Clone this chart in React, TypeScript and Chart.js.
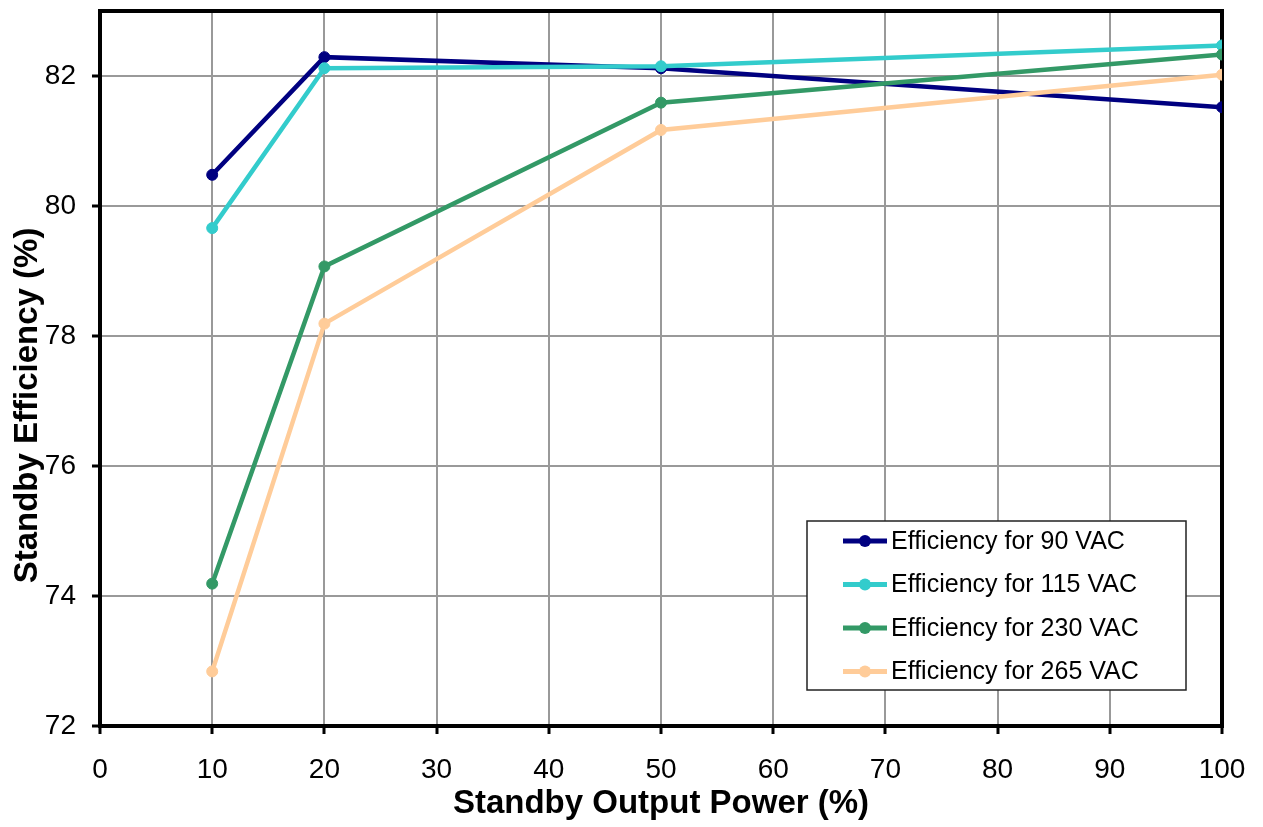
import React, { useEffect, useRef } from 'react';
import { Chart, registerables } from 'chart.js';

Chart.register(...registerables);

const xValues = [10, 20, 50, 100];
const eff90 = [80.48, 82.29, 82.12, 81.52];
const eff115 = [79.66, 82.12, 82.15, 82.47];
const eff230 = [74.19, 79.07, 81.59, 82.33];
const eff265 = [72.84, 78.19, 81.17, 82.02];
const seriesLabels = [
  'Efficiency for 90 VAC',
  'Efficiency for 115 VAC',
  'Efficiency for 230 VAC',
  'Efficiency for 265 VAC',
];
const seriesColors = ['#000080', '#33CCCC', '#339966', '#FFCC99'];
const seriesValues = [eff90, eff115, eff230, eff265];
const xTitle = 'Standby Output Power (%)';
const yTitle = 'Standby Efficiency (%)';

const FONT = '"Liberation Sans", Arial, sans-serif';

const framePlugin = {
  id: 'frame',
  beforeDatasetsDraw(chart: any) {
    const { ctx, chartArea } = chart;
    ctx.save();
    ctx.strokeStyle = '#000';
    ctx.lineWidth = 4;
    ctx.strokeRect(chartArea.left, chartArea.top, chartArea.right - chartArea.left, chartArea.bottom - chartArea.top);
    ctx.restore();
  },
};

const yTitlePlugin = {
  id: 'yTitle',
  afterDraw(chart: any) {
    const { ctx, chartArea } = chart;
    ctx.save();
    ctx.translate(chartArea.left - 72, (chartArea.top + chartArea.bottom) / 2 + 37);
    ctx.rotate(-Math.PI / 2);
    ctx.font = `bold 33px ${FONT}`;
    ctx.fillStyle = '#000';
    ctx.textAlign = 'center';
    ctx.textBaseline = 'middle';
    ctx.fillText(yTitle, 0, 0);
    ctx.restore();
  },
};

const legendPlugin = {
  id: 'boxLegend',
  afterDraw(chart: any) {
    const { ctx, chartArea } = chart;
    const right = chartArea.right - 36;
    const bottom = chartArea.bottom - 36;
    const w = 379;
    const h = 169;
    const left = right - w;
    const top = bottom - h;
    ctx.save();
    ctx.fillStyle = '#fff';
    ctx.fillRect(left, top, w, h);
    ctx.strokeStyle = '#222';
    ctx.lineWidth = 1.5;
    ctx.strokeRect(left, top, w, h);
    ctx.font = `25px ${FONT}`;
    ctx.textBaseline = 'middle';
    ctx.textAlign = 'left';
    chart.data.datasets.forEach((ds: any, i: number) => {
      const y = top + 20 + i * 43.5;
      ctx.strokeStyle = ds.borderColor;
      ctx.lineWidth = 5;
      ctx.beginPath();
      ctx.moveTo(left + 36, y);
      ctx.lineTo(left + 80, y);
      ctx.stroke();
      ctx.fillStyle = ds.borderColor;
      ctx.beginPath();
      ctx.arc(left + 58, y, 6, 0, Math.PI * 2);
      ctx.fill();
      ctx.fillStyle = '#000';
      ctx.fillText(ds.label, left + 84, y + 1);
    });
    ctx.restore();
  },
};

export default function App() {
  const ref = useRef<HTMLCanvasElement | null>(null);
  useEffect(() => {
    document.body.style.margin = '0';
    const canvas = ref.current;
    if (!canvas) return;
    const chart = new Chart(canvas, {
      type: 'line',
      data: {
        datasets: seriesLabels.map((label, i) => ({
          label,
          data: xValues.map((x, j) => ({ x, y: seriesValues[i][j] })),
          borderColor: seriesColors[i],
          backgroundColor: seriesColors[i],
          pointBackgroundColor: seriesColors[i],
          pointBorderColor: seriesColors[i],
          borderWidth: 4.5,
          pointRadius: 5.5,
          pointBorderWidth: 1,
          fill: false,
          tension: 0,
          order: seriesLabels.length - i,
        })),
      },
      options: {
        responsive: false,
        animation: false,
        layout: { padding: { top: 11, right: 41, left: 0, bottom: 0 } },
        plugins: {
          legend: { display: false },
          tooltip: { enabled: false },
        },
        scales: {
          x: {
            type: 'linear',
            min: 0,
            max: 100,
            ticks: { stepSize: 10, color: '#000', font: { family: FONT, size: 28 }, padding: 19, maxRotation: 0 },
            grid: { color: '#999', lineWidth: 2, tickColor: '#000', tickLength: 8, tickWidth: 3 },
            border: { display: true, color: '#000', width: 4 },
            title: {
              display: true,
              text: xTitle,
              color: '#000',
              font: { family: FONT, size: 33, weight: 'bold' },
              padding: { top: 0, bottom: 3 },
            },
            afterFit(scale: any) {
              scale.height = 101;
              scale.paddingLeft = 0;
              scale.paddingRight = 0;
            },
          },
          y: {
            type: 'linear',
            min: 72,
            max: 83,
            ticks: { stepSize: 2, color: '#000', font: { family: FONT, size: 28 }, padding: 16 },
            grid: { color: '#999', lineWidth: 2, tickColor: '#000', tickLength: 8, tickWidth: 3 },
            border: { display: true, color: '#000', width: 4 },
            title: { display: false },
            afterBuildTicks(axis: any) {
              axis.ticks = axis.ticks.filter((t: any) => t.value % 2 === 0);
            },
            afterFit(scale: any) {
              scale.width = 100;
              scale.paddingTop = 0;
              scale.paddingBottom = 0;
            },
          },
        },
      },
      plugins: [framePlugin, yTitlePlugin, legendPlugin],
    });
    return () => chart.destroy();
  }, []);
  return (
    <div style={{ position: 'relative', width: 1263, height: 827, background: '#fff' }}>
      <canvas ref={ref} width={1263} height={827} style={{ display: 'block' }} />
    </div>
  );
}
